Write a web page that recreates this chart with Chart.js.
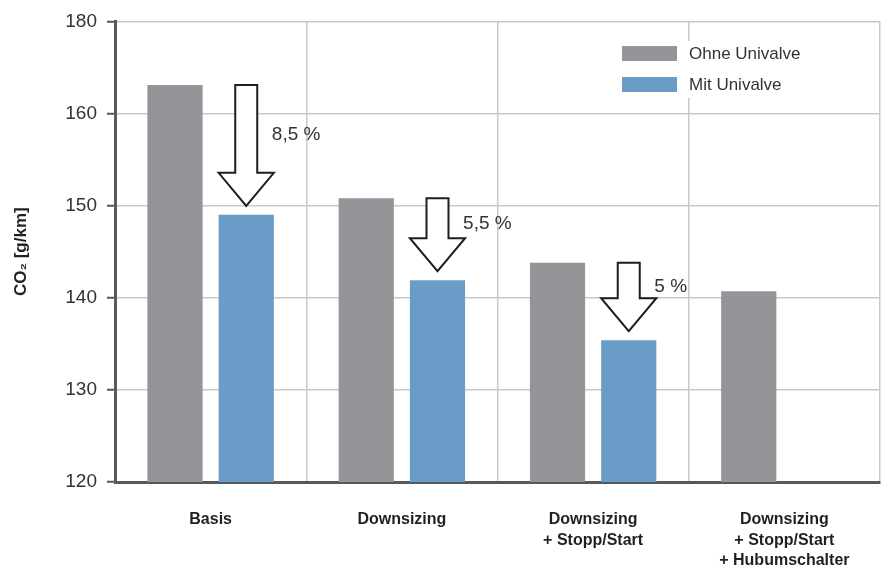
<!DOCTYPE html>
<html lang="de">
<head>
    <meta charset="UTF-8">
    <title>CO2 Univalve</title>
    <script src="https://cdn.jsdelivr.net/npm/chart.js"></script>
    <style>
        body {
            margin: 0;
            padding: 0;
            background-color: #ffffff;
        }
        #wrap {
            width: 885px;
            height: 567px;
        }
    </style>
</head>
<body>
    <div id="wrap"><canvas id="co2Chart" width="885" height="567"></canvas></div>

    <script>
        // Daten
        const categories = [
            ['Basis'],
            ['Downsizing'],
            ['Downsizing', '+ Stopp/Start'],
            ['Downsizing', '+ Stopp/Start', '+ Hubumschalter']
        ];
        const ohneUnivalve = [163.1, 150.8, 143.8, 140.7];
        const mitUnivalve = [149.0, 141.9, 135.4, null];
        const reduction = ['8,5 %', '5,5 %', '5 %', null];

        // Achse: gleichmäßige Abstände, oberste Marke ist mit "180" beschriftet
        const yTickValues = [120, 130, 140, 150, 160, 170];
        const yTickLabels = ['120', '130', '140', '150', '160', '180'];

        const GREY = '#939598';
        const BLUE = '#6b9cc7';
        const AXIS = '#58595b';
        const GRID = '#c9c9cb';
        const TEXT = '#333333';
        const FONT = '"Liberation Sans", Arial, sans-serif';

        // Pfeile von der grauen zur blauen Säule + Prozentangaben
        const arrowPlugin = {
            id: 'arrows',
            afterDatasetsDraw(chart) {
                const ctx = chart.ctx;
                const m0 = chart.getDatasetMeta(0);
                const m1 = chart.getDatasetMeta(1);
                ctx.save();
                mitUnivalve.forEach((v, i) => {
                    if (v === null) return;
                    const bar = m1.data[i];
                    const x = bar.x;
                    const top = m0.data[i].y;
                    const tip = bar.y - 9;
                    const halfHead = bar.width / 2;
                    const halfShaft = 11;
                    const headStart = tip - 33;

                    ctx.beginPath();
                    ctx.moveTo(x - halfShaft, top);
                    ctx.lineTo(x + halfShaft, top);
                    ctx.lineTo(x + halfShaft, headStart);
                    ctx.lineTo(x + halfHead, headStart);
                    ctx.lineTo(x, tip);
                    ctx.lineTo(x - halfHead, headStart);
                    ctx.lineTo(x - halfShaft, headStart);
                    ctx.closePath();
                    ctx.fillStyle = '#ffffff';
                    ctx.fill();
                    ctx.lineWidth = 2;
                    ctx.strokeStyle = '#1e1e1e';
                    ctx.stroke();

                    ctx.fillStyle = TEXT;
                    ctx.font = '19px ' + FONT;
                    ctx.textBaseline = 'middle';
                    ctx.textAlign = 'left';
                    ctx.fillText(reduction[i], x + halfHead - 2, (top + headStart) / 2 + 6);
                });
                ctx.restore();
            }
        };

        // Legende mit weißem Hintergrund oben rechts
        const legendPlugin = {
            id: 'boxLegend',
            afterDatasetsDraw(chart) {
                const ctx = chart.ctx;
                ctx.save();
                ctx.fillStyle = '#ffffff';
                ctx.fillRect(612, 41, 205, 57);
                ctx.font = '17px ' + FONT;
                ctx.textBaseline = 'middle';
                chart.data.datasets.forEach((ds, i) => {
                    const y = 46 + i * 31;
                    ctx.fillStyle = ds.backgroundColor;
                    ctx.fillRect(622, y, 55, 15);
                    ctx.fillStyle = TEXT;
                    ctx.fillText(ds.label, 689, y + 8);
                });
                ctx.restore();
            }
        };

        const ctx = document.getElementById('co2Chart').getContext('2d');

        new Chart(ctx, {
            type: 'bar',
            data: {
                labels: categories,
                datasets: [{
                    label: 'Ohne Univalve',
                    data: ohneUnivalve,
                    backgroundColor: GREY,
                    categoryPercentage: 0.745,
                    barPercentage: 0.775
                }, {
                    label: 'Mit Univalve',
                    data: mitUnivalve,
                    backgroundColor: BLUE,
                    categoryPercentage: 0.745,
                    barPercentage: 0.775
                }]
            },
            options: {
                responsive: false,
                animation: false,
                layout: {
                    padding: { top: 17, right: 5, left: 0, bottom: 0 }
                },
                plugins: {
                    legend: { display: false },
                    tooltip: { enabled: false }
                },
                scales: {
                    x: {
                        afterFit(scale) { scale.height = 85; },
                        grid: {
                            color: GRID,
                            lineWidth: 1.5,
                            offset: true,
                            drawTicks: false
                        },
                        border: { color: AXIS, width: 3 },
                        ticks: {
                            color: '#231f20',
                            padding: 27,
                            maxRotation: 0,
                            autoSkip: false,
                            font: { family: FONT, size: 16, weight: 'bold', lineHeight: 1.3 }
                        }
                    },
                    y: {
                        min: 120,
                        max: 170,
                        afterFit(scale) { scale.width = 115; },
                        afterBuildTicks(scale) {
                            scale.ticks = yTickValues.map(v => ({ value: v }));
                        },
                        grid: {
                            color: GRID,
                            lineWidth: 1.5,
                            tickColor: AXIS,
                            tickLength: 8,
                            tickWidth: 2
                        },
                        border: { color: AXIS, width: 3 },
                        ticks: {
                            color: TEXT,
                            padding: 10,
                            font: { family: FONT, size: 19 },
                            callback: (value) => yTickLabels[yTickValues.indexOf(value)]
                        },
                        title: {
                            display: true,
                            text: 'CO₂ [g/km]',
                            color: '#231f20',
                            padding: { top: 11, bottom: 0 },
                            font: { family: FONT, size: 17, weight: 'bold' }
                        }
                    }
                }
            },
            plugins: [arrowPlugin, legendPlugin]
        });
    </script>
</body>
</html>
